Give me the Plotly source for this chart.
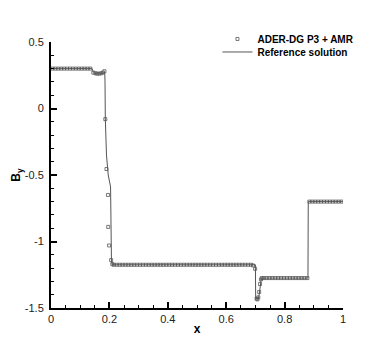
import plotly.graph_objects as go

# ADER-DG P3 + AMR samples
dg_x = [0.005, 0.015, 0.025, 0.035, 0.045, 0.055, 0.065, 0.075, 0.085, 0.095,
        0.105, 0.115, 0.125, 0.135,
        0.145, 0.152, 0.158, 0.165, 0.172, 0.178, 0.183,
        0.186, 0.190, 0.195, 0.196, 0.199, 0.206, 0.210,
        0.215, 0.225, 0.235, 0.245, 0.255, 0.265, 0.275, 0.285, 0.295, 0.305,
        0.315, 0.325, 0.335, 0.345, 0.355, 0.365, 0.375, 0.385, 0.395, 0.405,
        0.415, 0.425, 0.435, 0.445, 0.455, 0.465, 0.475, 0.485, 0.495, 0.505,
        0.515, 0.525, 0.535, 0.545, 0.555, 0.565, 0.575, 0.585, 0.595, 0.605,
        0.615, 0.625, 0.635, 0.645, 0.655, 0.665, 0.675, 0.685,
        0.692, 0.699, 0.704, 0.707, 0.710, 0.713, 0.716, 0.719, 0.722,
        0.728, 0.738, 0.748, 0.758, 0.768, 0.778, 0.788, 0.798, 0.808, 0.818,
        0.828, 0.838, 0.848, 0.858, 0.868, 0.878,
        0.885, 0.895, 0.905, 0.915, 0.925, 0.935, 0.945, 0.955, 0.965, 0.975,
        0.985, 0.995]
dg_y = [0.30, 0.30, 0.30, 0.30, 0.30, 0.30, 0.30, 0.30, 0.30, 0.30,
        0.30, 0.30, 0.30, 0.30,
        0.27, 0.265, 0.262, 0.262, 0.265, 0.27, 0.28,
        -0.08, -0.455, -0.65, -0.89, -1.03, -1.14, -1.17,
        -1.175, -1.175, -1.175, -1.175, -1.175, -1.175, -1.175, -1.175, -1.175, -1.175,
        -1.175, -1.175, -1.175, -1.175, -1.175, -1.175, -1.175, -1.175, -1.175, -1.175,
        -1.175, -1.175, -1.175, -1.175, -1.175, -1.175, -1.175, -1.175, -1.175, -1.175,
        -1.175, -1.175, -1.175, -1.175, -1.175, -1.175, -1.175, -1.175, -1.175, -1.175,
        -1.175, -1.175, -1.175, -1.175, -1.175, -1.175, -1.175, -1.175,
        -1.18, -1.205, -1.43, -1.435, -1.42, -1.38, -1.32, -1.285, -1.275,
        -1.275, -1.275, -1.275, -1.275, -1.275, -1.275, -1.275, -1.275, -1.275, -1.275,
        -1.275, -1.275, -1.275, -1.275, -1.275, -1.275,
        -0.70, -0.70, -0.70, -0.70, -0.70, -0.70, -0.70, -0.70, -0.70, -0.70,
        -0.70, -0.70]

# Reference solution
ref_x = [0.0, 0.14, 0.145, 0.15, 0.18, 0.184, 0.185, 0.186, 0.19, 0.196, 0.204,
         0.205, 0.207, 0.21, 0.70, 0.701, 0.71, 0.713, 0.72, 0.725, 0.88, 0.881, 1.0]
ref_y = [0.30, 0.30, 0.275, 0.265, 0.265, 0.27, 0.20, -0.07, -0.35, -0.50, -0.59,
         -1.05, -1.14, -1.175, -1.175, -1.43, -1.43, -1.40, -1.28, -1.275, -1.275, -0.70, -0.70]

x_ticks = [0, 0.2, 0.4, 0.6, 0.8, 1]
x_tick_labels = ["0", "0.2", "0.4", "0.6", "0.8", "1"]
y_ticks = [-1.5, -1, -0.5, 0, 0.5]
y_tick_labels = ["-1.5", "-1", "-0.5", "0", "0.5"]

FONT = "Liberation Sans, Arial, sans-serif"

fig = go.Figure()
fig.add_trace(go.Scatter(
    x=dg_x, y=dg_y, mode="markers", name="ADER-DG P3 + AMR", legend="legend",
    marker=dict(symbol="square-open", size=3, color="#555555", line=dict(width=0.8, color="#555555")),
))
fig.add_trace(go.Scatter(
    x=ref_x, y=ref_y, mode="lines", name="Reference solution", legend="legend2",
    line=dict(color="#555555", width=1),
))

axis_common = dict(
    showgrid=False, zeroline=False, showline=True, linecolor="black", linewidth=2,
    ticks="inside", ticklen=6, tickwidth=1.5, tickcolor="black",
    tickfont=dict(family=FONT, size=11, color="#222222"),
    mirror=False, automargin=False,
)
fig.update_xaxes(
    range=[0, 1], tickvals=x_ticks, ticktext=x_tick_labels,
    minor=dict(ticks="inside", ticklen=3, tickwidth=1, tickcolor="black", dtick=0.05, showgrid=False),
    title=dict(text="<b>x</b>", font=dict(family=FONT, size=12, color="black"), standoff=0),
    **axis_common,
)
fig.update_yaxes(
    range=[-1.5, 0.5], tickvals=y_ticks, ticktext=y_tick_labels,
    minor=dict(ticks="inside", ticklen=3, tickwidth=1, tickcolor="black", dtick=0.1, showgrid=False),
    title=dict(text="<b>B<sub>y</sub></b>", font=dict(family=FONT, size=12, color="black"), standoff=1),
    ticklabelstandoff=3,
    **axis_common,
)
legend_common = dict(
    x=0.57, xanchor="left", yanchor="top",
    bgcolor="rgba(0,0,0,0)", borderwidth=0,
    font=dict(family=FONT, size=10, color="black", weight="bold"),
    itemwidth=30, tracegroupgap=0,
)
fig.update_layout(
    width=374, height=331,
    margin=dict(l=43, r=39, t=34, b=31, autoexpand=False),
    paper_bgcolor="white", plot_bgcolor="white",
    showlegend=True,
    legend=dict(y=1.066, **legend_common),
    legend2=dict(y=1.017, **legend_common),
)
fig.write_html("out.html")
